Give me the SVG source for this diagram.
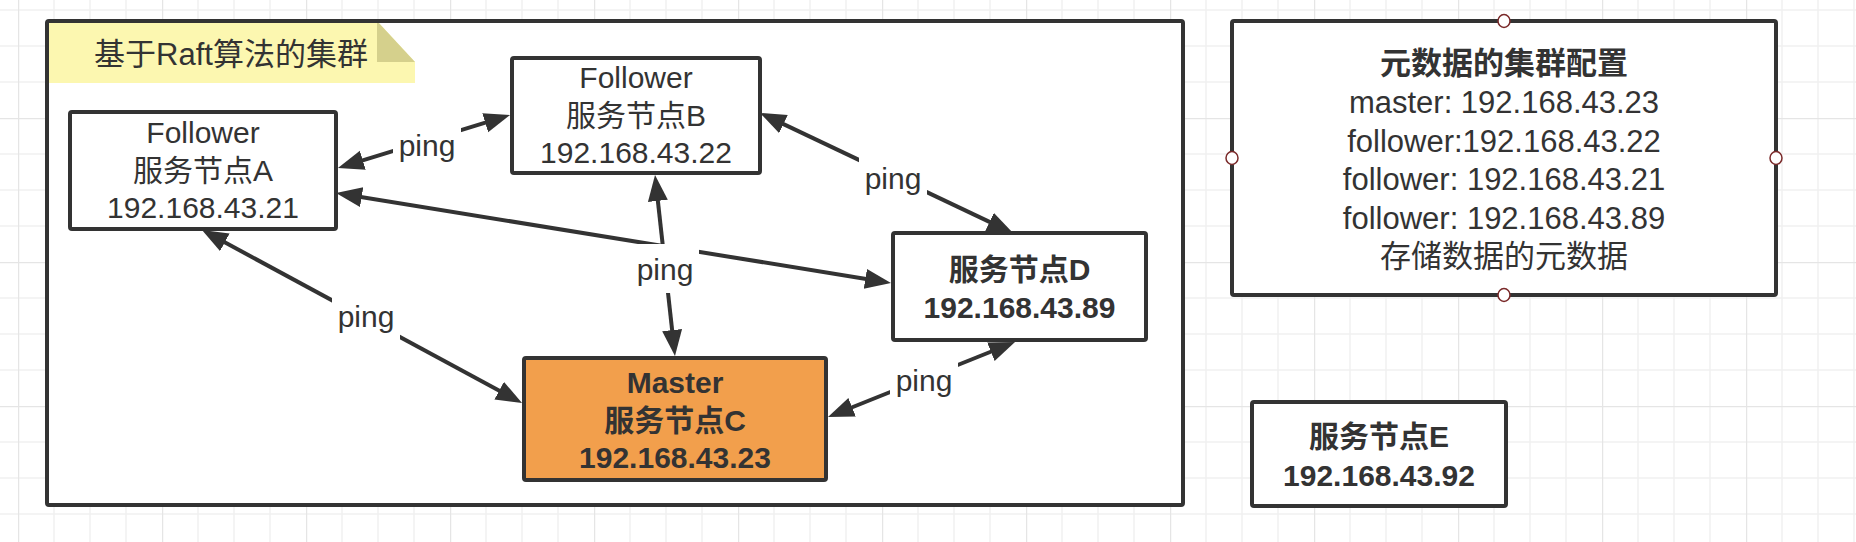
<svg xmlns="http://www.w3.org/2000/svg" width="1856" height="542" viewBox="0 0 1856 542">
<defs>
<pattern id="grid" patternUnits="userSpaceOnUse" x="18" y="118" width="144" height="144">
<path d="M36,0V144M72,0V144M108,0V144M0,36H144M0,72H144M0,108H144" stroke="#f1f1f1" stroke-width="1.5" fill="none"/>
<path d="M0.5,0V144M0,0.5H144" stroke="#e5e5e5" stroke-width="1.5" fill="none"/>
</pattern>
<marker id="arr" markerUnits="userSpaceOnUse" markerWidth="28" markerHeight="22" refX="18" refY="10" orient="auto-start-reverse">
<path d="M0,0 L26,10 L0,20 z" fill="#333"/>
</marker>
<style>
text{font-family:"Liberation Sans","Noto Sans CJK SC",sans-serif;fill:#333;text-anchor:middle}
.t{font-size:30px}
.b{font-size:30px;font-weight:bold}
.m{font-size:31px}
.mb{font-size:31px;font-weight:bold}
.box{fill:#fff;stroke:#333;stroke-width:4}
.ln{stroke:#333;stroke-width:4;fill:none;marker-start:url(#arr);marker-end:url(#arr)}
.lb{fill:#fff}
.pt{fill:#fff;stroke:#7a2a2a;stroke-width:1.5}
</style>
</defs>
<rect width="1856" height="542" fill="#fff"/>
<rect width="1856" height="542" fill="url(#grid)"/>

<g id="cluster">
<rect x="47" y="21" width="1136" height="484" rx="2" fill="#fff"/>
<polygon points="47,21 377,21 415,62 415,83 47,83" fill="#fcf7b0"/>
<polygon points="377,21 377,62 415,62" fill="#d5d08c"/>
<rect x="47" y="21" width="1136" height="484" rx="2" fill="none" stroke="#333" stroke-width="4"/>
<text class="m" x="231" y="65">基于Raft算法的集群</text>
</g>

<g id="connectors">
<line class="ln" x1="343.9" y1="194.3" x2="883.1" y2="281.7"/>
<line class="ln" x1="345.6" y1="165.6" x2="502.4" y2="117.4"/>
<rect class="lb" x="393" y="120" width="68" height="49"/>
<text class="t" x="427" y="156">ping</text>
<line class="ln" x1="767.2" y1="116.4" x2="1005.8" y2="229.6"/>
<rect class="lb" x="859" y="153" width="68" height="49"/>
<text class="t" x="893" y="189">ping</text>
<line class="ln" x1="655.9" y1="183" x2="674.1" y2="348"/>
<rect class="lb" x="631" y="244" width="68" height="49"/>
<text class="t" x="665" y="280">ping</text>
<line class="ln" x1="209" y1="233.8" x2="515" y2="399.2"/>
<rect class="lb" x="332" y="291" width="68" height="49"/>
<text class="t" x="366" y="327">ping</text>
<line class="ln" x1="835.4" y1="414" x2="1007.6" y2="345"/>
<rect class="lb" x="890" y="355" width="68" height="49"/>
<text class="t" x="924" y="391">ping</text>
</g>

<g id="nodeA">
<rect class="box" x="70" y="112" width="266" height="117" rx="2"/>
<text class="t" x="203" y="143">Follower</text>
<text class="t" x="203" y="181">服务节点A</text>
<text class="t" x="203" y="218">192.168.43.21</text>
</g>

<g id="nodeB">
<rect class="box" x="512" y="58" width="248" height="115" rx="2"/>
<text class="t" x="636" y="88">Follower</text>
<text class="t" x="636" y="126">服务节点B</text>
<text class="t" x="636" y="163">192.168.43.22</text>
</g>

<g id="nodeC">
<rect class="box" x="524" y="358" width="302" height="122" rx="2" style="fill:#f29f4c"/>
<text class="b" x="675" y="393">Master</text>
<text class="b" x="675" y="431">服务节点C</text>
<text class="b" x="675" y="468">192.168.43.23</text>
</g>

<g id="nodeD">
<rect class="box" x="893" y="233" width="253" height="107" rx="2"/>
<text class="b" x="1019.5" y="280">服务节点D</text>
<text class="b" x="1019.5" y="318">192.168.43.89</text>
</g>

<g id="meta">
<rect class="box" x="1232" y="21" width="544" height="274" rx="2"/>
<text class="mb" x="1504" y="74">元数据的集群配置</text>
<text class="m" x="1504" y="113">master: 192.168.43.23</text>
<text class="m" x="1504" y="152">follower:192.168.43.22</text>
<text class="m" x="1504" y="190">follower: 192.168.43.21</text>
<text class="m" x="1504" y="229">follower: 192.168.43.89</text>
<text class="m" x="1504" y="267">存储数据的元数据</text>
<ellipse class="pt" cx="1504" cy="21" rx="6" ry="6.5"/>
<ellipse class="pt" cx="1232" cy="158" rx="6" ry="6.5"/>
<ellipse class="pt" cx="1776" cy="158" rx="6" ry="6.5"/>
<ellipse class="pt" cx="1504" cy="295" rx="6" ry="6.5"/>
</g>

<g id="nodeE">
<rect class="box" x="1252" y="402" width="254" height="104" rx="2"/>
<text class="b" x="1379" y="447">服务节点E</text>
<text class="b" x="1379" y="486">192.168.43.92</text>
</g>
</svg>
